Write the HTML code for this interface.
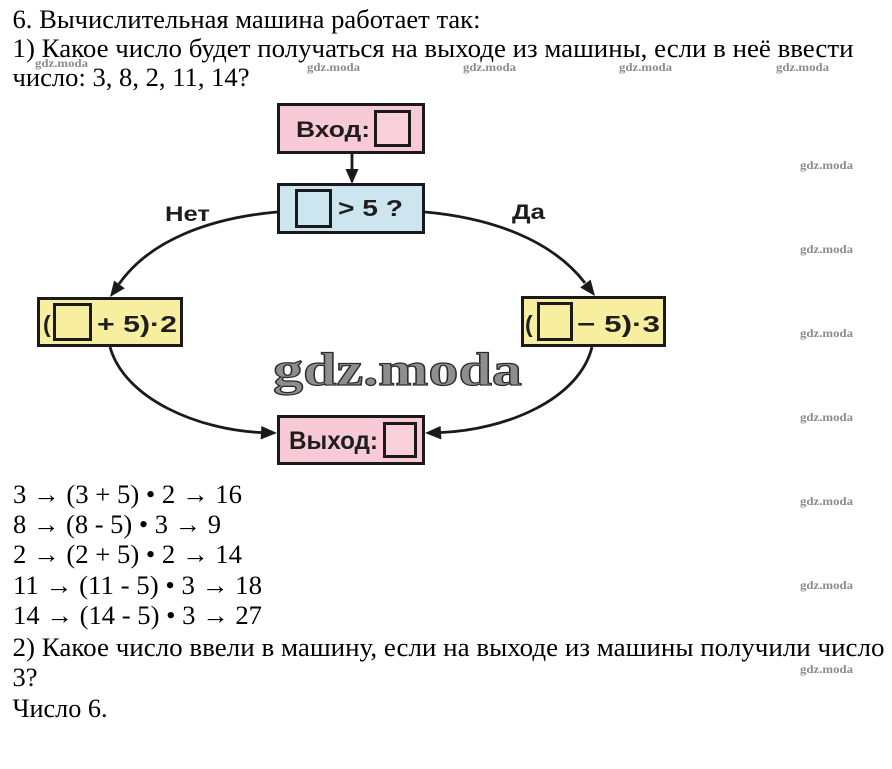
<!DOCTYPE html>
<html>
<head>
<meta charset="utf-8">
<style>
html,body{margin:0;padding:0;background:#fff;}
svg{display:block;}
.t{font-family:"Liberation Serif","DejaVu Serif",serif;fill:#000;}
.b{font-family:"Liberation Sans","DejaVu Sans",sans-serif;font-weight:bold;fill:#1e1e1e;}
.wm{font-family:"Liberation Serif",serif;font-weight:bold;font-size:12px;fill:#8c8c8c;}
</style>
</head>
<body>
<svg width="892" height="769" viewBox="0 0 892 769" xmlns="http://www.w3.org/2000/svg">
<rect width="892" height="769" fill="#fff"/>

<!-- header text -->
<text class="t" x="12.5" y="28" font-size="26" textLength="468" lengthAdjust="spacingAndGlyphs">6. Вычислительная машина работает так:</text>
<text class="t" x="12.5" y="57" font-size="26" textLength="841" lengthAdjust="spacingAndGlyphs">1) Какое число будет получаться на выходе из машины, если в неё ввести</text>
<text class="t" x="12.5" y="86" font-size="26" textLength="237" lengthAdjust="spacingAndGlyphs">число: 3, 8, 2, 11, 14?</text>

<!-- small watermarks -->
<text class="wm" x="35" y="67" textLength="53" lengthAdjust="spacingAndGlyphs">gdz.moda</text>
<text class="wm" x="307" y="71" textLength="53" lengthAdjust="spacingAndGlyphs">gdz.moda</text>
<text class="wm" x="463" y="71" textLength="53" lengthAdjust="spacingAndGlyphs">gdz.moda</text>
<text class="wm" x="619" y="71" textLength="53" lengthAdjust="spacingAndGlyphs">gdz.moda</text>
<text class="wm" x="776" y="71" textLength="53" lengthAdjust="spacingAndGlyphs">gdz.moda</text>
<text class="wm" x="800" y="169" textLength="53" lengthAdjust="spacingAndGlyphs">gdz.moda</text>
<text class="wm" x="800" y="253" textLength="53" lengthAdjust="spacingAndGlyphs">gdz.moda</text>
<text class="wm" x="800" y="337" textLength="53" lengthAdjust="spacingAndGlyphs">gdz.moda</text>
<text class="wm" x="800" y="421" textLength="53" lengthAdjust="spacingAndGlyphs">gdz.moda</text>
<text class="wm" x="800" y="505" textLength="53" lengthAdjust="spacingAndGlyphs">gdz.moda</text>
<text class="wm" x="800" y="589" textLength="53" lengthAdjust="spacingAndGlyphs">gdz.moda</text>
<text class="wm" x="800" y="673" textLength="53" lengthAdjust="spacingAndGlyphs">gdz.moda</text>

<!-- connectors -->
<g fill="none" stroke="#1a1a1a" stroke-width="2.8">
  <line x1="352" y1="154" x2="352" y2="171"/>
  <path d="M277,212 C210,218 150,240 119,284"/>
  <path d="M425,212 C492,218 552,240 585,283"/>
  <path d="M110,347 C125,400 200,430 261,432.5"/>
  <path d="M592,347 C579,400 505,430 441,432.5"/>
</g>
<g fill="#1a1a1a">
  <polygon points="352,184 345.5,169 358.5,169"/>
  <polygon points="110,297 124.8,288.2 114.1,280.6"/>
  <polygon points="595,296 580.2,287.5 590.6,279.6"/>
  <polygon points="277,433 260.6,439.5 261.4,426"/>
  <polygon points="425,433 440.6,426 441.4,439.5"/>
</g>

<!-- Вход box -->
<rect x="278.5" y="104.5" width="145" height="48" fill="#f8c9d6" stroke="#1a1a1a" stroke-width="3"/>
<rect x="375.5" y="111.5" width="34" height="34" fill="#f9cfdb" stroke="#1a1a1a" stroke-width="3"/>
<text class="b" x="296" y="137" font-size="22" textLength="74" lengthAdjust="spacingAndGlyphs">Вход:</text>

<!-- condition box -->
<rect x="278.5" y="184.5" width="145" height="48" fill="#cce5ef" stroke="#1a1a1a" stroke-width="3"/>
<rect x="296.5" y="190.5" width="34" height="36" fill="#cce5ef" stroke="#1a1a1a" stroke-width="3"/>
<text class="b" x="338" y="216" font-size="23" textLength="65" lengthAdjust="spacingAndGlyphs">&gt; 5 ?</text>

<!-- labels -->
<text class="b" x="165" y="221" font-size="21" textLength="45" lengthAdjust="spacingAndGlyphs">Нет</text>
<text class="b" x="512" y="219" font-size="21" textLength="33" lengthAdjust="spacingAndGlyphs">Да</text>

<!-- left yellow -->
<rect x="38.5" y="298.5" width="143" height="47" fill="#f7ef9f" stroke="#1a1a1a" stroke-width="3"/>
<rect x="54.5" y="304.5" width="36" height="35" fill="#f7ef9f" stroke="#1a1a1a" stroke-width="3"/>
<text class="b" x="43" y="332" font-size="23">(</text>
<text class="b" x="97" y="332" font-size="23" textLength="80" lengthAdjust="spacingAndGlyphs">+ 5)·2</text>

<!-- right yellow -->
<rect x="522.5" y="297.5" width="142" height="48" fill="#f7ef9f" stroke="#1a1a1a" stroke-width="3"/>
<rect x="538.5" y="303.5" width="33" height="36" fill="#f7ef9f" stroke="#1a1a1a" stroke-width="3"/>
<text class="b" x="525" y="332" font-size="23">(</text>
<text class="b" x="577" y="332" font-size="23" textLength="83" lengthAdjust="spacingAndGlyphs">− 5)·3</text>

<!-- output box -->
<rect x="278.5" y="416.5" width="145" height="47" fill="#f8c9d6" stroke="#1a1a1a" stroke-width="3"/>
<rect x="384.5" y="423.5" width="31" height="33" fill="#f9cfdb" stroke="#1a1a1a" stroke-width="3"/>
<text class="b" x="289" y="449" font-size="25" textLength="89" lengthAdjust="spacingAndGlyphs">Выход:</text>

<!-- big watermark -->
<text x="273" y="385" font-family="Liberation Serif, serif" font-weight="bold" font-size="47" fill="#8e8e8e" stroke="#2a2a2a" stroke-width="1.2" textLength="249" lengthAdjust="spacingAndGlyphs">gdz.moda</text>

<!-- answers -->
<text class="t" x="13" y="503" font-size="26" textLength="229" lengthAdjust="spacingAndGlyphs">3 → (3 + 5) • 2 → 16</text>
<text class="t" x="13" y="533" font-size="26" textLength="208" lengthAdjust="spacingAndGlyphs">8 → (8 - 5) • 3 → 9</text>
<text class="t" x="13" y="563" font-size="26" textLength="229" lengthAdjust="spacingAndGlyphs">2 → (2 + 5) • 2 → 14</text>
<text class="t" x="13" y="594" font-size="26" textLength="249" lengthAdjust="spacingAndGlyphs">11 → (11 - 5) • 3 → 18</text>
<text class="t" x="13" y="624" font-size="26" textLength="249" lengthAdjust="spacingAndGlyphs">14 → (14 - 5) • 3 → 27</text>
<text class="t" x="12.5" y="656" font-size="26" textLength="872" lengthAdjust="spacingAndGlyphs">2) Какое число ввели в машину, если на выходе из машины получили число</text>
<text class="t" x="12.5" y="686" font-size="26" textLength="25" lengthAdjust="spacingAndGlyphs">3?</text>
<text class="t" x="12.5" y="717" font-size="26" textLength="95" lengthAdjust="spacingAndGlyphs">Число 6.</text>
</svg>
</body>
</html>
